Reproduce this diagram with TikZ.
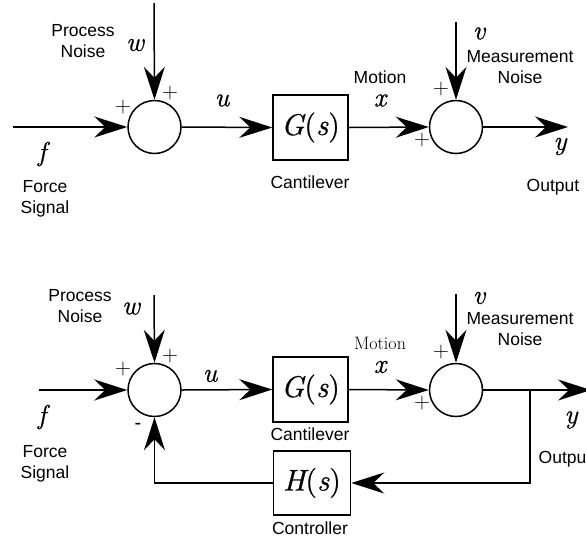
\documentclass[tikz,border=0pt]{standalone}
\usepackage{fontspec}
\usetikzlibrary{arrows.meta}
\newfontfamily\labfont{Liberation Sans}
\newfontfamily\mifont{lmroman10-italic.otf}[FakeBold=0.5]
\newfontfamily\mrfont{lmroman10-regular.otf}[FakeBold=0.5]
\newcommand\mvar[1]{{\mifont #1}}
\begin{document}
\begin{tikzpicture}[x=1pt,y=-1pt,line width=1.5pt,
  lab/.style={font=\fontsize{17.5}{21}\selectfont\labfont, align=center, inner sep=0pt},
  mlab/.style={font=\fontsize{27}{30}\selectfont\mifont, inner sep=0pt},
  sgn/.style={font=\fontsize{22}{24}\selectfont, inner sep=0pt},
  sumc/.style={circle, draw, minimum size=53pt, inner sep=0pt},
  blk/.style={draw, minimum width=75pt, minimum height=65pt, inner sep=0pt, font=\fontsize{30}{32}\selectfont\mrfont},
  arr/.style={-{Stealth[length=33pt,width=21pt,inset=11pt]}}]
\useasboundingbox (0,0) rectangle (586,542);
\clip (0,0) rectangle (586,542);
% ---------------- top diagram ----------------
\node[sumc] (s1) at (154.5,127) {};
\node[sumc] (s2) at (456,127) {};
\node[blk] (G1) at (310.5,127.5) {\mvar{G}(\mvar{s})};
\coordinate (fin1) at (13,127);
\coordinate (wtop1) at (154,3);
\coordinate (vtop1) at (456,22);
\coordinate (yout1) at (568,127);
\draw[arr] (fin1) -- (s1.west);
\draw[arr] (wtop1) -- (s1.north);
\draw[arr] (s1.east) -- (G1.west);
\draw[arr] (G1.east) -- (s2.west);
\draw[arr] (vtop1) -- (s2.north);
\draw[arr] (s2.east) -- (yout1);
\node[lab] (pn1) at (83,41.5) {Process\\Noise};
\node[mlab] (w1) at (135,45) {w};
\node[sgn] (p1a) at (170,93) {+};
\node[sgn] (p1b) at (123,107) {+};
\node[mlab] (f1) at (42,154) {f};
\node[lab] (fs1) at (45,199) {Force\\Signal};
\node[mlab] (u1) at (222,100.5) {u};
\node[lab] (cl1) at (310,182) {Cantilever};
\node[lab] (mo1) at (380,77) {Motion};
\node[mlab] (x1) at (380,100.5) {x};
\node[mlab] (v1) at (479,33.5) {v};
\node[lab] (mn1) at (520,67) {Measurement\\Noise};
\node[sgn] (p2a) at (441,89) {+};
\node[sgn] (p2b) at (422,140) {+};
\node[mlab] (y1) at (560,146.5) {y};
\node[lab] (out1) at (553,187) {Output};
% ---------------- bottom diagram ----------------
\node[sumc] (s3) at (154.5,390) {};
\node[sumc] (s4) at (456,390) {};
\node[blk] (G2) at (310.5,389.5) {\mvar{G}(\mvar{s})};
\node[blk, minimum width=77pt, minimum height=64pt] (H) at (312,483) {\mvar{H}(\mvar{s})};
\coordinate (fin2) at (39,390);
\coordinate (wtop2) at (154,295);
\coordinate (vtop2) at (456,294);
\coordinate (yout2) at (591,390);
\coordinate (jn) at (530,390);
\draw[arr] (fin2) -- (s3.west);
\draw[arr] (wtop2) -- (s3.north);
\draw[arr] (s3.east) -- (G2.west);
\draw[arr] (G2.east) -- (s4.west);
\draw[arr] (vtop2) -- (s4.north);
\draw[arr] (s4.east) -- (yout2);
\draw[arr] (jn) |- (H.east);
\draw[arr] (H.west) -| (s3.south);
\node[lab] (pn2) at (80,306.5) {Process\\Noise};
\node[mlab] (w2) at (131,308.5) {w};
\node[sgn] (p3a) at (170,356) {+};
\node[sgn] (p3b) at (123,369) {+};
\node[lab, font=\fontsize{20}{21}\selectfont\labfont] (m3) at (138,426) {-};
\node[mlab] (f2) at (42,417) {f};
\node[lab] (fs2) at (45,464) {Force\\Signal};
\node[mlab] (u2) at (210,376) {u};
\node[lab] (cl2) at (310,434) {Cantilever};
\node[lab] (ct) at (310,528) {Controller};
\node[font=\fontsize{18}{21}\selectfont, inner sep=0pt] (mo2) at (380,343) {Motion};
\node[mlab] (x2) at (380,367) {x};
\node[mlab] (v2) at (479,298) {v};
\node[lab] (mn2) at (520,329.5) {Measurement\\Noise};
\node[sgn] (p4a) at (441,352) {+};
\node[sgn] (p4b) at (422,403) {+};
\node[mlab] (y2) at (571,420) {y};
\node[lab] (out2) at (565,459) {Output};
\end{tikzpicture}
\end{document}
